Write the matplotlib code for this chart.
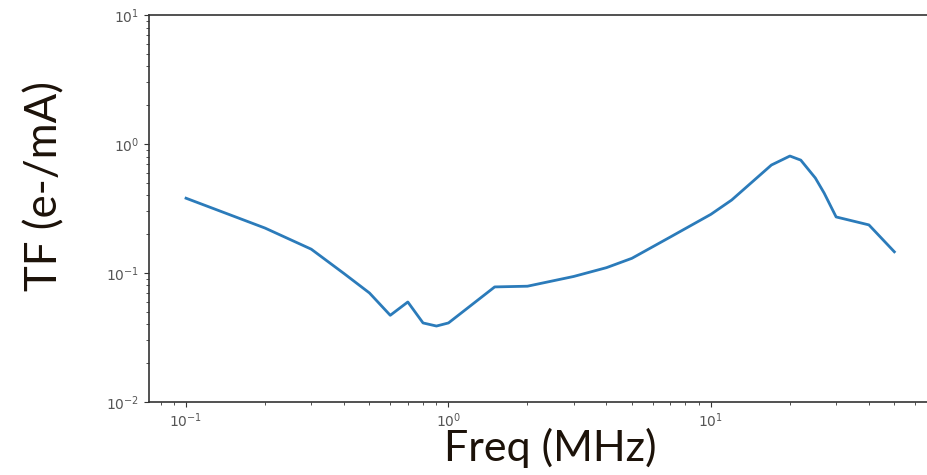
import numpy as np
import matplotlib.pyplot as plt

# frequency (MHz) and transfer function (e-/mA)
freq = [0.1, 0.2, 0.3, 0.4, 0.5, 0.6, 0.7, 0.8, 0.9, 1.0, 1.5, 2.0, 3.0, 4.0, 5.0,
        7.0, 10.0, 12.0, 17.0, 20.0, 22.0, 25.0, 27.0, 30.0, 40.0, 50.0]
tf = [0.38, 0.223, 0.153, 0.099, 0.070, 0.047, 0.0596, 0.041, 0.0388, 0.041, 0.078, 0.079,
      0.094, 0.11, 0.13, 0.19, 0.285, 0.368, 0.687, 0.807, 0.75, 0.545, 0.417, 0.272,
      0.236, 0.146]

fig = plt.figure(figsize=(9.28, 4.75), dpi=100)
ax = fig.add_axes([0.1606, 0.1537, 0.8416, 0.8147])

ax.plot(freq, tf, color='#2b7bba', lw=2)
ax.set_xscale('log')
ax.set_yscale('log')
ax.set_xlim(10 ** -1.141, 10 ** 1.835)
ax.set_ylim(1e-2, 1e1)

ax.tick_params(which='both', labelsize=10, labelcolor='#555555', color='#333333')
for s in ax.spines.values():
    s.set_color('#333333')
    s.set_linewidth(1.2)

fig.text(0.593, 0.057, 'Freq (MHz)', fontsize=31, family='Lato', color='#1c1209',
         ha='center', va='center')
fig.text(0.0485, 0.608, 'TF (e-/mA)', fontsize=31.5, family='Lato', color='#1c1209',
         ha='center', va='center', rotation=90)

fig.savefig('out.png', dpi=100)
